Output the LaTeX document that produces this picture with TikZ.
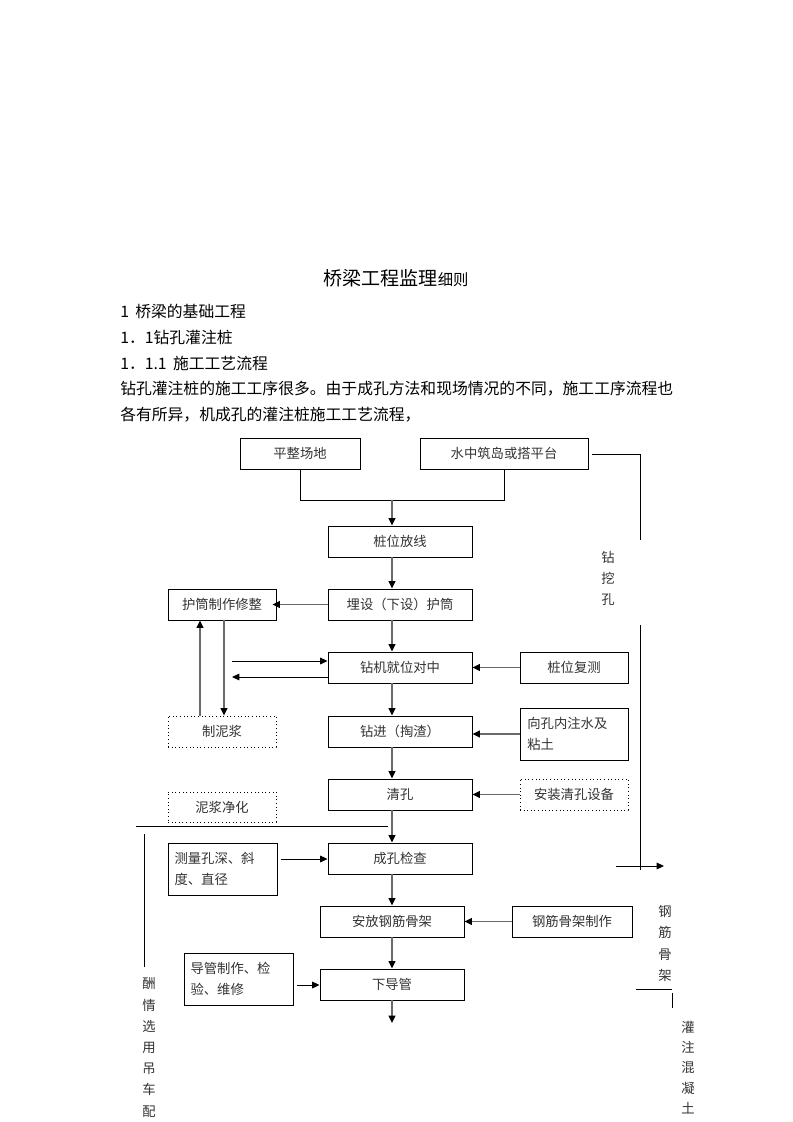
\documentclass[tikz,border=0pt]{standalone}
\usepackage{fontspec}
\newfontfamily\cjk{Noto Sans CJK SC}
\usetikzlibrary{arrows.meta}
\definecolor{flowgray}{HTML}{6A6A6A}
\definecolor{txtgray}{HTML}{333333}
\begin{document}
\begin{tikzpicture}[x=0.75pt,y=-0.75pt,
  box/.style={draw=black,line width=0.7pt,inner sep=0pt,minimum height=23.25pt,
    font=\cjk\fontsize{10pt}{15.75pt}\selectfont,text=txtgray},
  dotbox/.style={box,dotted},
  flow/.style={draw=flowgray,line width=1.4pt,-{Triangle[length=5.5pt,width=5pt,color=black]}},
  thinarrow/.style={draw=black,line width=0.7pt,-{Triangle[length=5.5pt,width=5pt]}},
  thinline/.style={draw=black,line width=0.7pt},
  body/.style={font=\cjk\fontsize{11.85pt}{15pt}\selectfont,anchor=west,inner sep=0pt},
  vtext/.style={font=\cjk\fontsize{10pt}{15.9pt}\selectfont,align=center,inner sep=0pt,text=txtgray}]
\useasboundingbox (0,0) rectangle (793,1122);
\fill[white] (0,0) rectangle (793,1122);

% heading text
\node[font=\cjk,inner sep=0pt] (title) at (396,278) {\fontsize{14.3pt}{16pt}\selectfont 桥梁工程监理\fontsize{11.5pt}{16pt}\selectfont 细则};
\node[body] (l1) at (120,311) {1\hspace{0.4em}桥梁的基础工程};
\node[body] (l2) at (120,337) {1．1钻孔灌注桩};
\node[body] (l3) at (120,363) {1．1.1\hspace{0.4em}施工工艺流程};
\node[body] (l4) at (120,389) {钻孔灌注桩的施工工序很多。由于成孔方法和现场情况的不同，施工工序流程也};
\node[body] (l5) at (120,415) {各有所异，机成孔的灌注桩施工工艺流程，};

% boxes
\node[box,minimum width=90pt] (pz) at (300,453.5) {平整场地};
\node[box,minimum width=126pt] (sz) at (504,453.5) {水中筑岛或搭平台};
\node[box,minimum width=108pt] (zwfx) at (400,541.5) {桩位放线};
\node[box,minimum width=108pt] (msh) at (400,604.5) {埋设（下设）护筒};
\node[box,minimum width=81pt] (htzz) at (222,604.5) {护筒制作修整};
\node[box,minimum width=108pt] (zj) at (400,667.5) {钻机就位对中};
\node[box,minimum width=81pt] (zwfc) at (574,667.5) {桩位复测};
\node[dotbox,minimum width=81pt] (zhn) at (222,731.5) {制泥浆};
\node[box,minimum width=108pt] (zjin) at (400,731.5) {钻进（掏渣）};
\node[box,minimum width=81pt,minimum height=39pt,align=left,text width=70pt] (xk) at (574,734) {向孔内注水及\\粘土};
\node[box,minimum width=108pt] (qk) at (400,794.5) {清孔};
\node[dotbox,minimum width=81pt] (azqk) at (574,794.5) {安装清孔设备};
\node[dotbox,minimum width=81pt,minimum height=22.5pt] (njjh) at (222,807) {泥浆净化};
\node[box,minimum width=108pt] (ckjc) at (400,858.5) {成孔检查};
\node[box,minimum width=81.75pt,minimum height=39pt,align=left,text width=72pt] (clks) at (222.5,869) {测量孔深、斜\\度、直径};
\node[box,minimum width=108pt] (afgj) at (392,921.5) {安放钢筋骨架};
\node[box,minimum width=90pt] (gjzz) at (572,921.5) {钢筋骨架制作};
\node[box,minimum width=108pt] (xdg) at (392,984.5) {下导管};
\node[box,minimum width=81.75pt,minimum height=39pt,align=left,text width=72pt] (dgzz) at (238.5,979) {导管制作、检\\验、维修};

% helper coordinates
\coordinate (j1) at (392,500);
\coordinate (lA) at (232,661);
\coordinate (lB) at (232,677);
\coordinate (endp) at (392,1023);
\coordinate (rA) at (592,454);
\coordinate (rB) at (640,454);
\coordinate (rC) at (640,540);
\coordinate (rD) at (640,625);
\coordinate (rE) at (640,870);
\coordinate (rF) at (616,866);
\coordinate (rG) at (664,866);
\coordinate (hA) at (136,826);
\coordinate (hB) at (388,826);
\coordinate (vA) at (144,834);
\coordinate (vB) at (144,967);
\coordinate (sA) at (636,989);
\coordinate (sB) at (672,989);
\coordinate (sC) at (672,993);
\coordinate (sD) at (672,1008);

% connectors
\draw[thinline] (pz.south) -- (300,500) -- (504,500) -- (sz.south);
\draw[flow] (j1) -- (zwfx.north -| j1);
\draw[flow] (zwfx.south -| j1) -- (msh.north -| j1);
\draw[flow] (msh.west) -- ([xshift=-3]htzz.east);
\draw[flow] (zhn.north -| 200,0) -- (htzz.south -| 200,0);
\draw[flow] (htzz.south -| 224,0) -- (zhn.north -| 224,0);
\draw[thinarrow] (lA) -- (lA -| zj.west);
\draw[thinarrow] (lB -| zj.west) -- (lB);
\draw[flow] (msh.south -| j1) -- (zj.north -| j1);
\draw[flow] (zwfc.west) -- (zj.east);
\draw[flow] (zj.south -| j1) -- (zjin.north -| j1);
\draw[flow] (xk.west) -- (zjin.east |- xk.west);
\draw[flow] (zjin.south -| j1) -- (qk.north -| j1);
\draw[flow] (azqk.west) -- (qk.east);
\draw[flow] (qk.south -| j1) -- (ckjc.north -| j1);
\draw[thinarrow] ([xshift=3]clks.east |- 0,859) -- (ckjc.west |- 0,859);
\draw[flow] (ckjc.south -| j1) -- (afgj.north);
\draw[flow] (gjzz.west) -- (afgj.east);
\draw[flow] (afgj.south) -- (xdg.north);
\draw[thinarrow] ([xshift=3]dgzz.east |- 0,985) -- (xdg.west |- 0,985);
\draw[flow] (xdg.south) -- (endp);

% right and left side lines
\draw[thinline] (rA) -- (rB) -- (rC);
\draw[thinline] (rD) -- (rE);
\draw[thinarrow] (rF) -- (rG);
\draw[thinline] (hA) -- (hB);
\draw[thinline] (vA) -- (vB);
\draw[thinline] (sA) -- (sB);
\draw[thinline] (sC) -- (sD);

% vertical labels
\node[vtext] (t1) at (608,578.5) {钻\\挖\\孔};
\node[vtext] (t2) at (665,943.5) {钢\\筋\\骨\\架};
\node[vtext,font=\cjk\fontsize{10pt}{15.2pt}\selectfont] (t3) at (688,1067.5) {灌\\注\\混\\凝\\土};
\node[vtext] (t4) at (149,1047.5) {酬\\情\\选\\用\\吊\\车\\配};
\end{tikzpicture}
\end{document}
